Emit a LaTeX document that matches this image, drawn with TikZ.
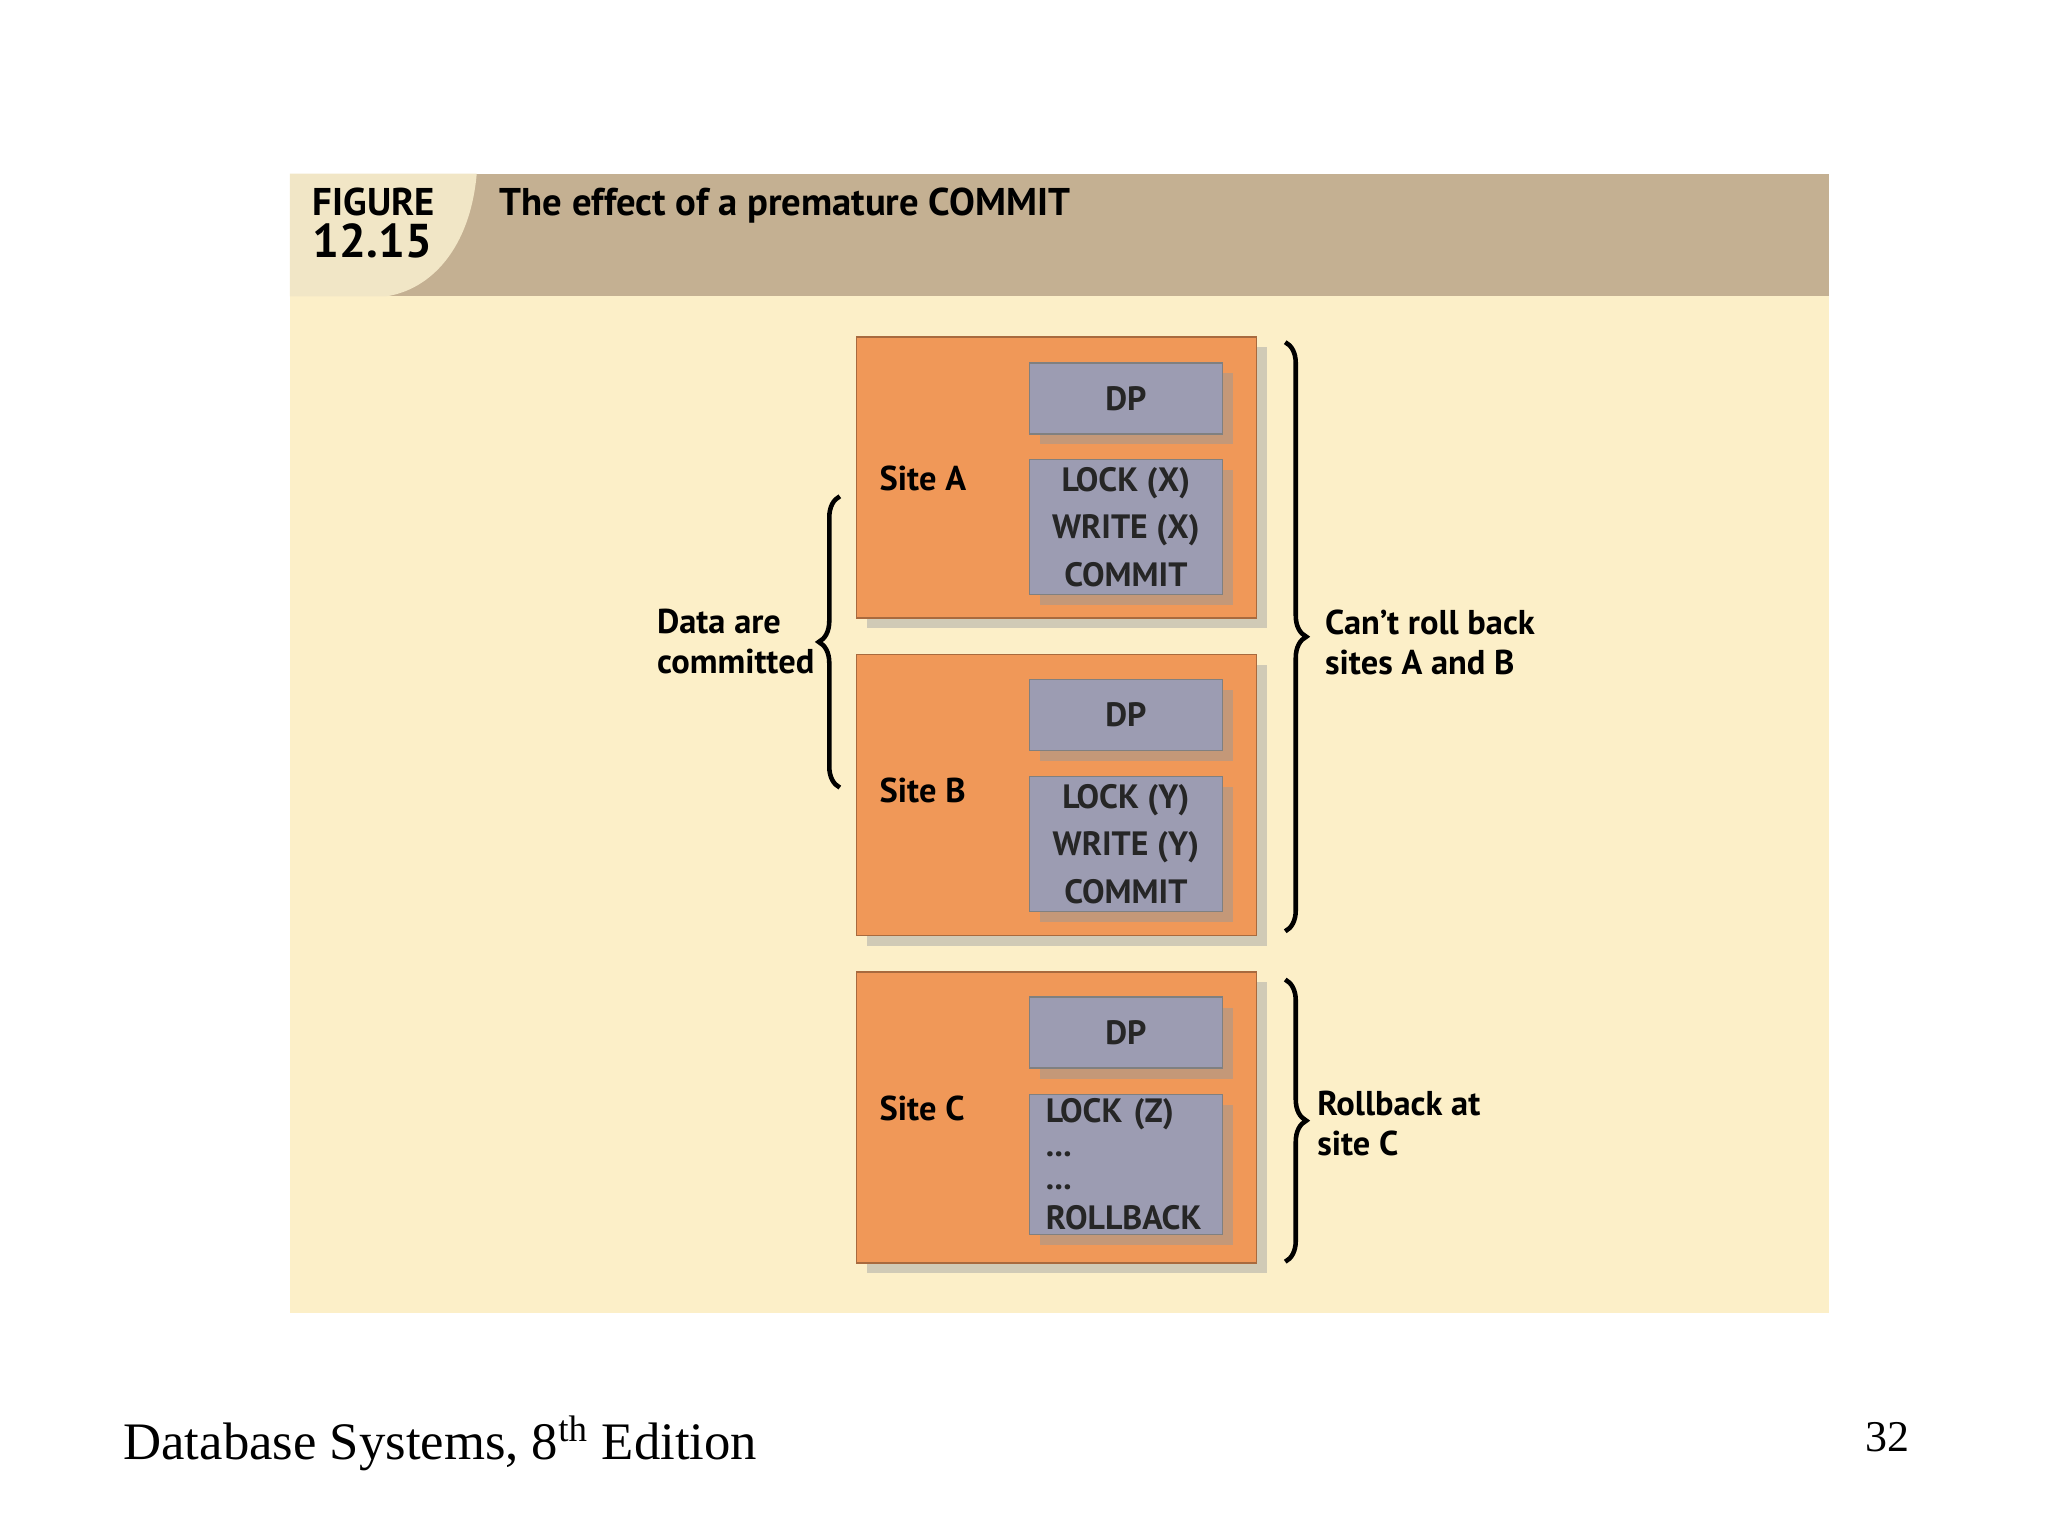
\documentclass[tikz,border=0pt]{standalone}
\usepackage{fontspec}
\setmainfont{PT Sans}
\newfontfamily\footfont{Liberation Serif}
\usetikzlibrary{positioning,shadows,decorations.pathreplacing}
\definecolor{cream}{HTML}{FCEFC8}
\definecolor{tan}{HTML}{C4B092}
\definecolor{tablight}{HTML}{F1E6C6}
\definecolor{siteorange}{HTML}{F09858}
\definecolor{dpgray}{HTML}{9C9CB2}
\begin{document}
\begin{tikzpicture}[x=0.01306cm,y=-0.01306cm,
    site/.style={rectangle, draw=siteorange!70!black, fill=siteorange, minimum width=4cm, inner sep=0pt, drop shadow={shadow xshift=3pt, shadow yshift=-3pt, fill=black!35}},
    cmd/.style={rectangle, draw=black!50, fill=dpgray, minimum width=1.93cm, inner sep=0pt, align=center, font=\fontsize{9.6}{13.5}\selectfont\bfseries\color{black!85}, drop shadow={shadow xshift=3pt, shadow yshift=-3pt, fill=black!40}},
    lbl/.style={font=\fontsize{9.8}{11.5}\selectfont\bfseries, align=left, inner sep=0pt},
    brace/.style={decorate, decoration={brace, amplitude=6pt}, line width=1.3pt}
]
\useasboundingbox (0,0) rectangle (1568,1176);
% panel
\fill[cream] (222,133) rectangle (1400,1005);
\fill[tan] (222,133) rectangle (1400,227);
\fill[tablight] (222,133) -- (365,133) .. controls (360,190) and (330,222) .. (295,227) -- (222,227) -- cycle;
\node[anchor=north west, inner sep=0pt, align=left, font=\fontsize{11}{13}\selectfont\bfseries] (fig) at (239,143) {FIGURE\\[-1pt]{\fontsize{13.5}{14}\selectfont 12.15}};
\node[anchor=north west, inner sep=0pt, font=\fontsize{11}{13}\selectfont\bfseries] (title) at (382,143) {The effect of a premature COMMIT};

% sites
\node[site, minimum height=2.81cm] (siteA) at (809,365.5) {};
\node[site, minimum height=2.81cm] (siteB) at (809,608.5) {};
\node[site, minimum height=2.91cm] (siteC) at (809,855.5) {};
\node[lbl, anchor=west] (labA) at (673,366) {Site A};
\node[lbl, anchor=west] (labB) at (673,605) {Site B};
\node[lbl, anchor=west] (labC) at (673,849) {Site C};

\node[cmd, minimum height=0.71cm] (dpA) at (862,305) {DP};
\node[cmd, minimum height=1.35cm] (lockA) at (862,403.5) {LOCK (X)\\WRITE (X)\\COMMIT};
\node[cmd, minimum height=0.71cm] (dpB) at (862,547.5) {DP};
\node[cmd, minimum height=1.35cm] (lockB) at (862,646) {LOCK (Y)\\WRITE (Y)\\COMMIT};
\node[cmd, minimum height=0.71cm] (dpC) at (862,790.5) {DP};
\node[cmd, minimum height=1.40cm, align=left, text width=1.6cm] (lockC) at (862,891.5) {LOCK (Z)\\[-4pt]...\\[-4pt]...\\[-2pt]ROLLBACK};

% braces
\coordinate (dcTop) at (643,380);
\coordinate (dcBot) at (643,603);
\draw[brace] (dcBot) -- (dcTop);
\node[lbl, anchor=east] (dataLbl) at (624,491) {Data are\\committed};
\coordinate (abTop) at (984,262);
\coordinate (abBot) at (984,713);
\draw[brace] (abTop) -- (abBot);
\node[lbl, anchor=west] (abLbl) at (1014,492) {Can't roll back\\sites A and B};
\coordinate (cTop) at (984,750);
\coordinate (cBot) at (984,966);
\draw[brace] (cTop) -- (cBot);
\node[lbl, anchor=west] (cLbl) at (1008,860) {Rollback at\\site C};

% footer
\node[anchor=west, inner sep=0pt, font=\footfont\fontsize{15}{18}\selectfont] (foot) at (94,1105) {Database Systems, 8\textsuperscript{th} Edition};
\node[anchor=center, inner sep=0pt, font=\footfont\fontsize{12.5}{15}\selectfont] (page) at (1445,1100) {32};
\end{tikzpicture}
\end{document}
